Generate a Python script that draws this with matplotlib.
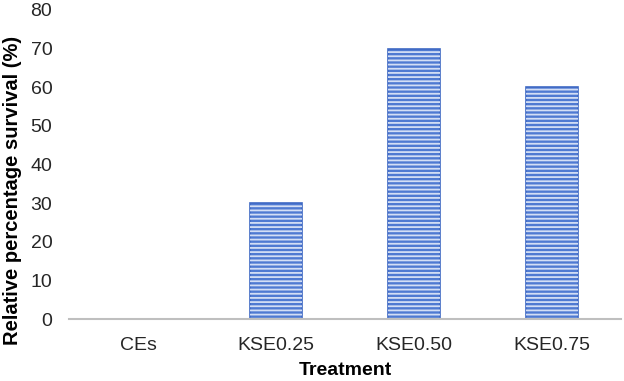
import numpy as np
import matplotlib
matplotlib.use('Agg')
import matplotlib.pyplot as plt

plt.rcParams['font.family'] = ['Liberation Sans', 'DejaVu Sans']
plt.rcParams['hatch.linewidth'] = 1.3

treatments = ['CEs', 'KSE0.25', 'KSE0.50', 'KSE0.75']
survival = [0, 30, 70, 60]

fig = plt.figure(figsize=(6.24, 3.81), dpi=100)
ax = fig.add_axes([0.1106, 0.1627, 0.8844, 0.8113])

x = np.arange(len(treatments))
ax.bar(x, survival, width=0.38, color='#4f7ad2', edgecolor='#3f69c4', linewidth=1.2)
ax.bar(x, survival, width=0.38, color='none', edgecolor='#d3def5', linewidth=0, hatch='----')

ax.set_xlim(-0.5, len(treatments) - 0.5)
ax.set_ylim(0, 80)
ax.set_yticks(np.arange(0, 81, 10))
ax.set_xticks(x)
ax.set_xticklabels(treatments)
ax.tick_params(axis='both', length=0, labelsize=14, colors='#262626')
ax.tick_params(axis='x', pad=13)
ax.tick_params(axis='y', pad=12)

for s in ['top', 'right', 'left']:
    ax.spines[s].set_visible(False)
ax.spines['bottom'].set_color('#bfbfbf')
ax.spines['bottom'].set_linewidth(1.5)

ax.set_xlabel('Treatment', fontsize=14, fontweight='bold', labelpad=6)
ax.set_ylabel('Relative percentage survival (%)', fontsize=14.5, fontweight='bold')
ax.yaxis.set_label_coords(-0.085, 0.415)

fig.savefig('out.png', dpi=100)
